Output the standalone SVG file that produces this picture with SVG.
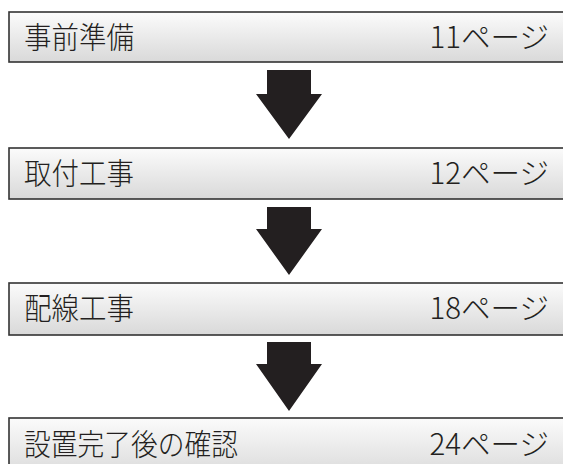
<svg xmlns="http://www.w3.org/2000/svg" width="563" height="464" viewBox="0 0 563 464">
<defs>
<linearGradient id="g" x1="0" y1="0" x2="0" y2="1">
<stop offset="0" stop-color="#fbfbfb"/>
<stop offset="1" stop-color="#d9d9d9"/>
</linearGradient>
<style>
.box{fill:url(#g);stroke:#333;stroke-width:1.6}
.t{font-family:"Noto Sans CJK JP","Noto Sans",sans-serif;font-size:29.5px;font-weight:300;fill:#231f20}
.arr{fill:#231f20}
</style>
</defs>
<rect width="563" height="464" fill="#fff"/>
<g id="n1"><rect class="box" x="9" y="12" width="580" height="50"/><text class="t" x="24" y="48" textLength="110" lengthAdjust="spacingAndGlyphs">事前準備</text><text class="t" x="549" y="48" text-anchor="end">11ページ</text></g>
<g id="n2"><rect class="box" x="9" y="148" width="580" height="51"/><text class="t" x="24" y="184" textLength="110" lengthAdjust="spacingAndGlyphs">取付工事</text><text class="t" x="549" y="184" text-anchor="end">12ページ</text></g>
<g id="n3"><rect class="box" x="9" y="283" width="580" height="52"/><text class="t" x="24" y="319" textLength="110" lengthAdjust="spacingAndGlyphs">配線工事</text><text class="t" x="549" y="319" text-anchor="end">18ページ</text></g>
<g id="n4"><rect class="box" x="9" y="418" width="580" height="60"/><text class="t" x="24" y="455" textLength="214" lengthAdjust="spacingAndGlyphs">設置完了後の確認</text><text class="t" x="549" y="455" text-anchor="end">24ページ</text></g>
<g id="connectors">
<polygon class="arr" points="267,70 311,70 311,94 322,94 289,139 256,94 267,94"/>
<polygon class="arr" points="267,207 311,207 311,229 322,229 289,275 256,229 267,229"/>
<polygon class="arr" points="267,342 311,342 311,364 322,364 289,411 256,364 267,364"/>
</g>
</svg>
